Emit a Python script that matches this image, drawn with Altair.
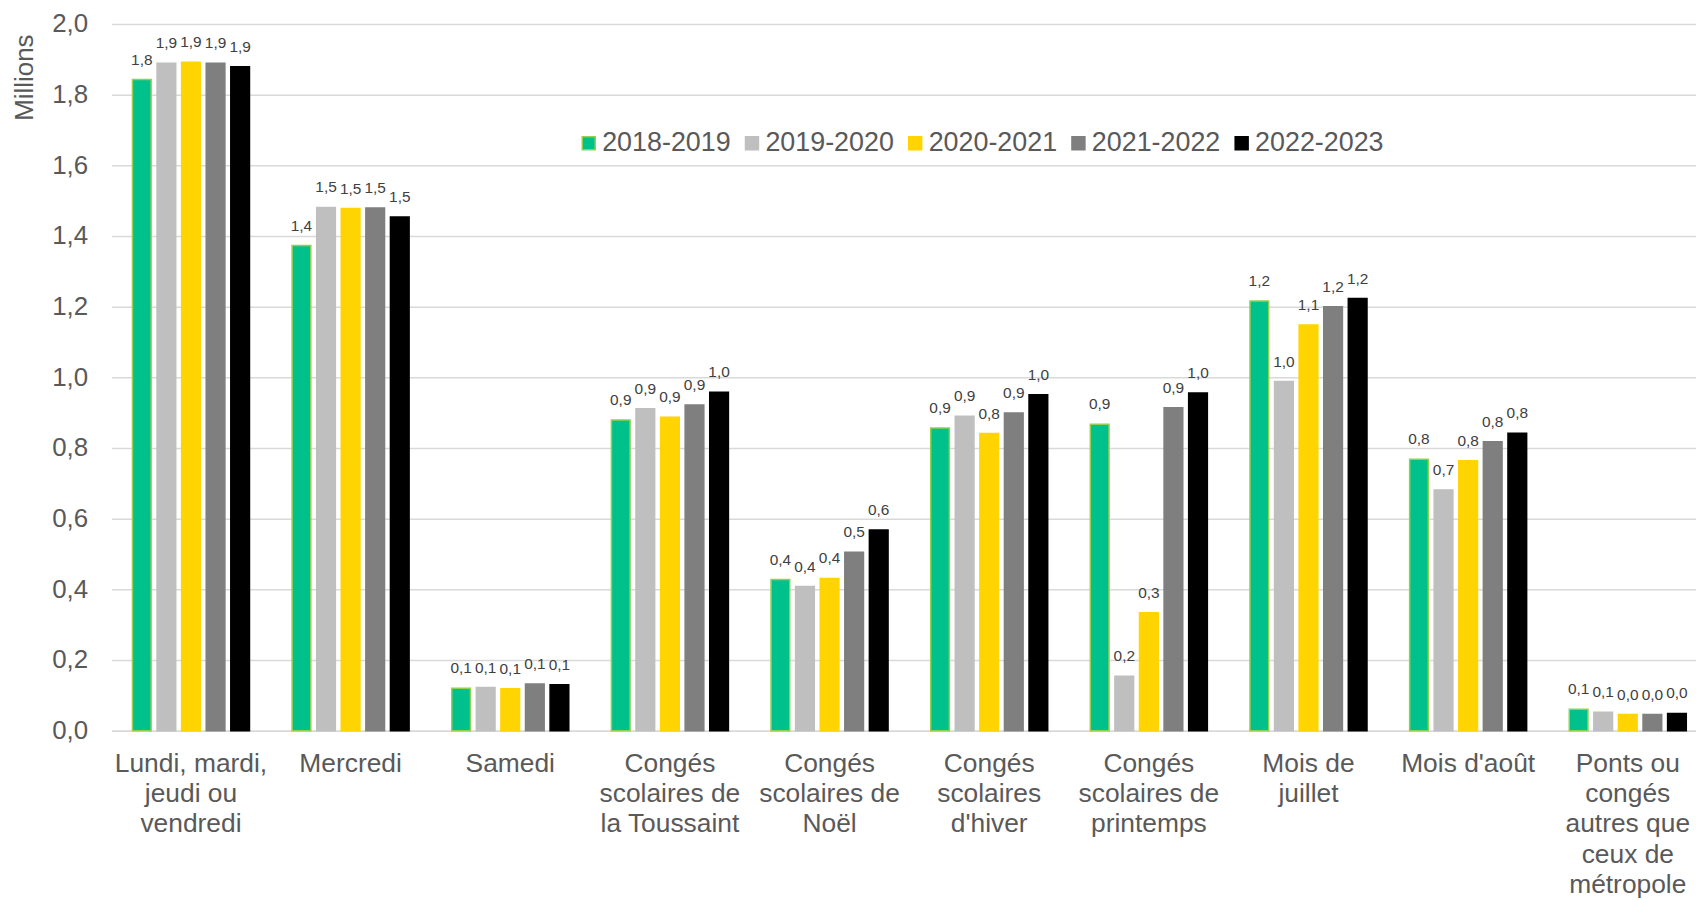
import altair as alt
import pandas as pd

FONT = "Liberation Sans"

years = ["2018-2019", "2019-2020", "2020-2021", "2021-2022", "2022-2023"]

categories = [
    "Lundi, mardi,|jeudi ou|vendredi",
    "Mercredi",
    "Samedi",
    "Congés|scolaires de|la Toussaint",
    "Congés|scolaires de|Noël",
    "Congés|scolaires|d'hiver",
    "Congés|scolaires de|printemps",
    "Mois de|juillet",
    "Mois d'août",
    "Ponts ou|congés|autres que|ceux de|métropole",
]

v_2018_2019 = [1.843, 1.373, 0.120, 0.879, 0.428, 0.857, 0.867, 1.216, 0.768, 0.061]
v_2019_2020 = [1.889, 1.481, 0.122, 0.911, 0.408, 0.890, 0.154, 0.988, 0.681, 0.052]
v_2020_2021 = [1.892, 1.478, 0.119, 0.887, 0.431, 0.841, 0.334, 1.148, 0.764, 0.046]
v_2021_2022 = [1.889, 1.479, 0.132, 0.922, 0.505, 0.899, 0.914, 1.200, 0.818, 0.046]
v_2022_2023 = [1.879, 1.454, 0.130, 0.958, 0.568, 0.951, 0.956, 1.223, 0.842, 0.049]

y_ticks = [0.0, 0.2, 0.4, 0.6, 0.8, 1.0, 1.2, 1.4, 1.6, 1.8, 2.0]

fill_colors = ["#00C08B", "#BFBFBF", "#FFD400", "#7F7F7F", "#000000"]
stroke_colors = ["#92D050", "#BFBFBF", "#FFD400", "#7F7F7F", "#000000"]

series = [v_2018_2019, v_2019_2020, v_2020_2021, v_2021_2022, v_2022_2023]
rows = []
for yr, vals in zip(years, series):
    for c, v in zip(categories, vals):
        rows.append({"cat": c, "year": yr, "value": v,
                     "label": f"{v:.1f}".replace(".", ",")})
df = pd.DataFrame(rows)

legend = alt.Legend(
    orient="none", legendX=466, legendY=106, direction="horizontal", title=None,
    labelFontSize=27, labelFont=FONT, labelColor="#595959",
    symbolType="square", symbolSize=169, symbolStrokeWidth=1.5,
    labelOffset=0, columnPadding=7, padding=0, labelLimit=300,
)

x_enc = alt.X(
    "cat:N", sort=categories, title=None,
    scale=alt.Scale(paddingInner=0.235, paddingOuter=0.08, align=0.72),
    axis=alt.Axis(
        labelExpr="split(datum.value, '|')", labelAngle=0, labelFontSize=26.5,
        labelFont=FONT, labelColor="#595959", labelLineHeight=30.4,
        labelPadding=20, ticks=False, domain=True, domainColor="#D9D9D9",
        domainWidth=1.5, labelBaseline="top", labelAlign="center",
        labelLimit=400, labelOverlap=False, labelBound=False, labelFlush=False,
    ),
)
xoff_enc = alt.XOffset("year:N", sort=years,
                       scale=alt.Scale(paddingInner=0.24, paddingOuter=0.104))
y_enc = alt.Y(
    "value:Q", scale=alt.Scale(domain=[0, 2], nice=False),
    axis=alt.Axis(
        values=y_ticks, labelExpr="replace(format(datum.value, '.1f'), '.', ',')",
        labelFontSize=26, labelFont=FONT, labelColor="#595959", labelPadding=24,
        ticks=False, domain=False, grid=True, gridColor="#D9D9D9", gridWidth=1.5,
        title="Millions", titleAngle=270, titleX=-79, titleY=10,
        titleAlign="right", titleBaseline="alphabetic", titleFontSize=26,
        titleFont=FONT, titleFontWeight="normal", titleColor="#595959",
    ),
)

bars = alt.Chart(df).mark_bar(strokeWidth=1.5).encode(
    x=x_enc, xOffset=xoff_enc, y=y_enc,
    fill=alt.Fill("year:N", sort=years,
                  scale=alt.Scale(domain=years, range=fill_colors), legend=legend),
    stroke=alt.Stroke("year:N", sort=years,
                      scale=alt.Scale(domain=years, range=stroke_colors), legend=legend),
)

labels = alt.Chart(df).mark_text(
    dy=-15, baseline="alphabetic", fontSize=15.5, font=FONT, color="#404040"
).encode(
    x=x_enc, xOffset=xoff_enc, y=y_enc, text="label:N",
)

chart = alt.layer(bars, labels).properties(
    width=1592, height=710,
    padding={"left": 104, "top": 14, "right": 0, "bottom": 168},
    autosize=alt.AutoSizeParams(type="none"),
).configure_view(strokeWidth=0)

chart.save("out.html", embed_options={"renderer": "svg", "actions": False})
